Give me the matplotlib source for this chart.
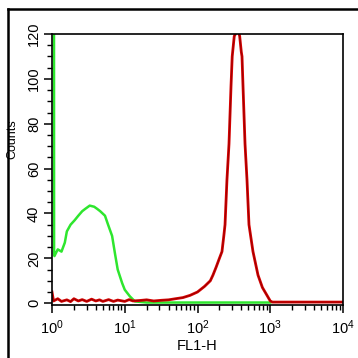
import matplotlib
matplotlib.use('Agg')
import matplotlib.pyplot as plt
from matplotlib.ticker import MultipleLocator, LogLocator
from matplotlib.lines import Line2D

# Fluorescence channel values (FL1-H) and counts
green_fl = [1.065, 1.068, 1.08, 1.2, 1.35, 1.5, 1.6, 1.8, 2.05, 2.3, 2.6, 2.85, 3.3,
            3.8, 4.2, 4.6, 5.35, 5.9, 6.7, 7.35, 8.0, 9.2, 10.0, 11.8, 13.8,
            20.0, 50.0, 100.0, 300.0, 1000.0]
green_counts = [140, 22, 21, 24, 23, 27, 32, 35, 37, 39, 41, 42, 43.5,
                43, 42, 41, 39, 35, 30, 22, 15, 9, 6, 3, 0.8,
                0.3, 0.3, 0.3, 0.3, 0.3]

red_fl = [1.0, 1.05, 1.2, 1.35, 1.6, 1.8, 2.0, 2.3, 2.6, 3.0, 3.5, 4.0, 4.5,
          5.0, 6.0, 7.0, 8.0, 10.0, 11.5, 13.0, 16.0, 20.0, 25.0, 32.0, 40.0,
          50.0, 63.0, 79.0, 100.0, 125.0, 150.0, 163.0, 180.0, 200.0, 217.0,
          230.0, 239.0, 254.0, 271.0, 289.0, 300.0, 320.0, 345.0, 360.0,
          380.0, 400.0, 409.0, 422.0, 450.0, 479.0, 510.0, 579.0, 679.0,
          780.0, 902.0, 1000.0, 1070.0, 2000.0, 5000.0, 10000.0]
red_counts = [5, 1, 2, 0.8, 1.5, 0.7, 2, 1, 1.6, 0.8, 1.8, 1, 1.5,
              0.8, 1.6, 0.8, 1.4, 0.8, 1.6, 1, 1.2, 1.5, 1, 1.3, 1.5,
              2, 2.5, 3.5, 5, 7.5, 10, 12.5, 16, 20, 23,
              30, 35, 55, 71, 97, 110, 119, 121, 122,
              119, 112, 110, 97, 71, 55, 35, 23, 12.5,
              7, 3.5, 1, 0.5, 0.5, 0.5, 0.5]

y_ticks = [0, 20, 40, 60, 80, 100, 120]

plt.rcParams['font.family'] = ['Liberation Sans Narrow', 'Liberation Sans']
plt.rcParams['mathtext.fontset'] = 'custom'
plt.rcParams['mathtext.rm'] = 'Liberation Sans'
plt.rcParams['mathtext.default'] = 'regular'

fig = plt.figure(figsize=(3.58, 3.58), dpi=100, facecolor='white')
ax = fig.add_axes([52 / 358, 1 - 305 / 358, 291 / 358, 271 / 358])

# green histogram first, red on top
ax.plot(green_fl, green_counts, color='#2ee62e', lw=1.8)
ax.plot(red_fl, red_counts, color='#d40000', lw=2.0)
ax.plot(red_fl, red_counts, color='#8a0000', lw=0.5)

ax.set_xscale('log')
ax.set_xlim(1, 10000)
ax.set_ylim(-0.8, 120)
ax.set_yticks(y_ticks)
ax.yaxis.set_minor_locator(MultipleLocator(5))
ax.xaxis.set_major_locator(LogLocator(base=10))
ax.xaxis.set_minor_locator(LogLocator(base=10, subs=range(2, 10)))

for side in ax.spines.values():
    side.set_linewidth(1.2)
    side.set_color('black')

ax.tick_params(which='major', direction='out', length=6, width=1.1, labelsize=10.5)
ax.tick_params(which='minor', direction='out', length=3.5, width=1)
ax.tick_params(axis='x', pad=4)
ax.tick_params(axis='y', labelrotation=90, pad=2)
for lab in ax.get_yticklabels():
    lab.set_va('center')

ax.set_xlabel('FL1-H', fontsize=10.5, labelpad=1)
ax.set_ylabel('Counts', fontsize=9)
ax.yaxis.set_label_coords(-0.117, 0.613)

# outer frame (only top/left edges fall inside the picture)
fig.add_artist(Line2D([8 / 358, 8 / 358], [0, 1 - 9 / 358], transform=fig.transFigure, color='black', lw=1.8))
fig.add_artist(Line2D([8 / 358, 1], [1 - 9 / 358, 1 - 9 / 358], transform=fig.transFigure, color='black', lw=1.8))

fig.savefig('out.png', dpi=100)
plt.close(fig)
